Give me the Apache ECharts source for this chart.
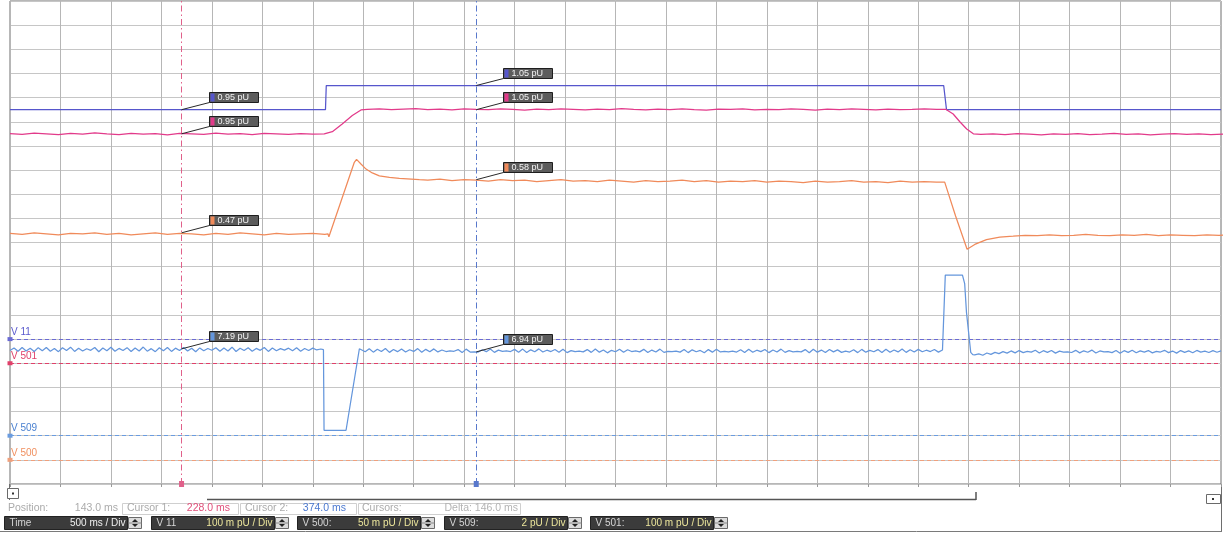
<!DOCTYPE html>
<html><head><meta charset="utf-8">
<script src="https://cdn.jsdelivr.net/npm/echarts@6/dist/echarts.min.js"></script>
<style>html,body{margin:0;padding:0;background:#fff}#c{width:1228px;height:533px}</style>
</head><body><div id="c"></div>
<script>
// ===================== DATA =====================
const positionMs = 143.0;          // left edge of the screen (ms)
const msPerGridDiv = 25;           // time per grid division (ms)
const gridDivsX = 24;
const gridDivsY = 20;
const cursor1Ms = 228.0;
const cursor2Ms = 374.0;

const channelNames = ['V 11', 'V 501', 'V 500', 'V 509'];
const channelPerDiv = [0.1, 0.1, 0.05, 2];     // pU per division
const channelZeroDiv = [6, 5, 1, 2];           // zero marker, divisions above bottom
const channelColors = ['#5656cc', '#e23a8a', '#f08a5a', '#6496dc'];
const zeroLineColors = ['#6a6ad4', '#e0406a', '#f0a07c', '#6a9ce0'];
const zeroLabelColors = ['#5a5acd', '#e0406a', '#f09060', '#4a80d0'];

// cursor read-outs (pU), channel order as channelNames
const cursor1Read = [0.95, 0.95, 0.47, 7.19];
const cursor2Read = [1.05, 1.05, 0.58, 6.94];

// bottom scale bar
const scaleRowLabels = ['Time', 'V 11', 'V 500:', 'V 509:', 'V 501:'];
const scaleRowValues = ['500 ms / Div', '100 m pU / Div', '50 m pU / Div', '2 pU / Div', '100 m pU / Div'];

// ---- V 11 (step) ----
const v11T = [143, 299.3, 299.7, 605.6, 607.0, 743];
const v11V = [0.95, 0.95, 1.05, 1.05, 0.95, 0.95];

// ---- V 501 ----
const v501A = [ // from 143 ms every 6 ms
  0.951, 0.948, 0.953, 0.950, 0.947, 0.952, 0.949, 0.954, 0.950, 0.947,
  0.952, 0.949, 0.951, 0.946, 0.952, 0.950, 0.948, 0.953, 0.949, 0.951,
  0.947, 0.952, 0.950, 0.948, 0.951, 0.949];
const v501UpT = [298.7, 302.7, 307.6, 312.6, 316.9];
const v501UpV = [0.950, 0.959, 0.991, 1.026, 1.049];
const v501B = [ // from 320 ms every 6 ms
  1.051, 1.053, 1.050, 1.052, 1.054, 1.050, 1.052, 1.049, 1.053, 1.051,
  1.050, 1.053, 1.051, 1.048, 1.052, 1.050, 1.053, 1.051, 1.049, 1.052,
  1.050, 1.054, 1.051, 1.049, 1.052, 1.050, 1.053, 1.050, 1.048, 1.052,
  1.051, 1.053, 1.049, 1.051, 1.050, 1.053, 1.051, 1.048, 1.052, 1.050,
  1.053, 1.051, 1.049, 1.052, 1.050, 1.051, 1.053, 1.051];
const v501DownT = [606.8, 610.3, 613.6, 617.0, 620.3];
const v501DownV = [1.051, 1.032, 1.000, 0.970, 0.950];
const v501C = [ // from 624 ms every 6 ms
  0.948, 0.950, 0.947, 0.951, 0.949, 0.946, 0.950, 0.948, 0.951, 0.947,
  0.949, 0.952, 0.948, 0.950, 0.946, 0.949, 0.951, 0.948, 0.950, 0.947, 0.949];

// ---- V 500 ----
const v500A = [ // from 143 ms every 6 ms
  0.469, 0.467, 0.470, 0.468, 0.466, 0.469, 0.468, 0.470, 0.467, 0.469,
  0.466, 0.468, 0.470, 0.467, 0.469, 0.468, 0.466, 0.469, 0.467, 0.470,
  0.468, 0.466, 0.469, 0.467, 0.468, 0.469, 0.467];
const v500UpT = [300.5, 301.0, 313.6, 314.7, 317.0, 319.4, 322.5, 326.0, 331.0, 335.9, 345.8];
const v500UpV = [0.468, 0.462, 0.616, 0.622, 0.612, 0.602, 0.594, 0.588, 0.585, 0.583, 0.580];
const v500B = [ // from 350 ms every 6 ms
  0.579, 0.581, 0.578, 0.580, 0.579, 0.577, 0.580, 0.578, 0.579, 0.576,
  0.578, 0.580, 0.577, 0.578, 0.576, 0.579, 0.577, 0.575, 0.578, 0.576,
  0.577, 0.579, 0.576, 0.578, 0.575, 0.577, 0.576, 0.578, 0.575, 0.577,
  0.576, 0.574, 0.577, 0.575, 0.576, 0.578, 0.575, 0.576, 0.574, 0.577,
  0.575, 0.576, 0.575];
const v500DownT = [606.1, 611.5, 617.2, 621.0, 626.8, 633.4];
const v500DownV = [0.575, 0.505, 0.436, 0.446, 0.456, 0.461];
const v500C = [ // from 640 ms every 6 ms
  0.463, 0.465, 0.464, 0.466, 0.464, 0.465, 0.467, 0.465, 0.464, 0.466,
  0.465, 0.467, 0.464, 0.466, 0.465, 0.464, 0.466, 0.465, 0.466];

// ---- V 509 ----
const v509A = [ // from 143 ms every 2 ms
  7.05, 7.27, 6.99, 7.30, 7.02, 7.24, 6.97, 7.29, 7.04, 7.31,
  7.00, 7.22, 6.96, 7.28, 7.06, 7.33, 6.98, 7.25, 7.01, 7.20,
  7.07, 7.30, 6.95, 7.26, 7.03, 7.32, 6.99, 7.23, 7.05, 7.29,
  6.97, 7.27, 7.02, 7.34, 7.00, 7.21, 6.96, 7.28, 7.04, 7.30,
  6.98, 7.25, 7.06, 7.31, 7.01, 7.24, 6.95, 7.27, 7.03, 7.22,
  7.08, 7.29, 6.99, 7.26, 7.02, 7.33, 6.97, 7.24, 7.05, 7.28,
  7.00, 7.23, 7.07, 7.30, 6.98, 7.26, 7.04, 7.21, 7.09, 7.25,
  7.03, 7.28, 7.00, 7.22, 7.06, 7.25, 7.10, 7.18];
const v509DipT = [298.3, 298.6, 309.5, 316.1];
const v509DipV = [7.12, 0.45, 0.45, 7.20];
const v509B = [ // from 317 ms every 2 ms
  7.15, 6.95, 7.20, 6.92, 7.16, 6.97, 7.22, 6.90, 7.14, 6.96,
  7.18, 6.93, 7.12, 6.98, 7.21, 6.91, 7.15, 6.95, 7.19, 6.94,
  7.10, 6.97, 7.02, 6.99, 7.13, 6.88, 7.17, 6.93, 6.95, 6.93,
  7.12, 6.96, 7.18, 6.90, 7.09, 6.98, 7.02, 6.97, 7.15, 6.92,
  7.17, 6.89, 7.11, 6.95, 7.19, 6.93, 7.08, 6.97, 7.14, 6.91,
  7.16, 6.88, 7.05, 6.96, 7.01, 6.94, 7.13, 6.90, 7.18, 6.92,
  7.10, 6.86, 7.07, 6.95, 7.16, 6.91, 7.12, 6.97, 7.03, 6.94,
  7.15, 6.89, 7.09, 6.93, 7.17, 6.90, 6.98, 6.96, 7.00, 6.92,
  7.14, 6.88, 7.11, 6.95, 7.06, 6.87, 7.13, 6.92, 7.16, 6.94,
  6.99, 6.95, 7.01, 6.93, 7.12, 6.89, 7.15, 6.91, 7.08, 6.96,
  7.14, 6.88, 7.10, 6.93, 7.17, 6.90, 7.04, 6.95, 6.98, 6.94,
  7.13, 6.87, 7.16, 6.92, 7.09, 6.89, 7.14, 6.94, 7.11, 6.90,
  7.00, 6.93, 7.12, 6.88, 7.15, 6.92, 7.07, 6.95, 7.13, 6.89,
  7.16, 6.91, 7.10, 6.94, 7.18, 6.90, 7.12, 6.93, 7.15, 6.95,
  7.08, 6.97, 7.14, 6.92, 7.10];
const v509PulseT = [605.6, 606.4, 614.9, 616.0, 616.9, 619.0, 620.0];
const v509PulseV = [7.05, 13.3, 13.3, 12.6, 10.2, 6.90, 6.72];
const v509C = [ // from 621 ms every 2 ms
  6.70, 6.78, 6.66, 6.85, 6.74, 6.90, 6.80, 6.96, 6.84, 7.02,
  6.86, 7.05, 6.88, 6.98, 6.92, 7.08, 6.85, 7.04, 6.90, 7.06,
  6.84, 7.00, 6.93, 6.95, 6.89, 7.07, 6.86, 7.03, 6.91, 7.09,
  6.85, 7.02, 6.94, 6.97, 6.88, 7.06, 6.83, 7.04, 6.90, 7.08,
  6.87, 7.03, 6.92, 7.05, 6.86, 6.99, 6.93, 7.07, 6.88, 7.01,
  6.84, 7.05, 6.90, 7.02, 6.87, 7.06, 6.92, 7.00, 6.89, 7.04,
  6.91, 7.02];

// ===================== BUILD =====================
const seg = (start, step, vals) => vals.map((v, i) => [start + step * i, v]);
const pairs = (ts, vs) => ts.map((t, i) => [t, vs[i]]);

const traceData = [
  pairs(v11T, v11V),
  [].concat(seg(143, 6, v501A), pairs(v501UpT, v501UpV), seg(320, 6, v501B), pairs(v501DownT, v501DownV), seg(624, 6, v501C)),
  [].concat(seg(143, 6, v500A), pairs(v500UpT, v500UpV), seg(350, 6, v500B), pairs(v500DownT, v500DownV), seg(640, 6, v500C)),
  [].concat(seg(143, 2, v509A), pairs(v509DipT, v509DipV), seg(317, 2, v509B), pairs(v509PulseT, v509PulseV), seg(621, 2, v509C))
];

const FONT = '"Liberation Sans", Arial, sans-serif';
const chart = echarts.init(document.getElementById('c'), null, {renderer: 'canvas'});

const grid = {left: 10, top: 1, width: 1211, height: 483, show: true, borderColor: '#6e6e6e', borderWidth: 1, backgroundColor: '#fff'};

const yAxes = [{
  type: 'value', min: 0, max: gridDivsY, interval: 1,
  axisLine: {show: false}, axisTick: {show: false}, axisLabel: {show: false},
  splitLine: {show: true, lineStyle: {color: '#c6c6c6', width: 1}}
}];
channelNames.forEach((n, k) => {
  yAxes.push({type: 'value', show: false,
    min: -channelZeroDiv[k] * channelPerDiv[k],
    max: (gridDivsY - channelZeroDiv[k]) * channelPerDiv[k]});
});

const series = channelNames.map((name, k) => ({
  name, type: 'line', xAxisIndex: 1, yAxisIndex: k + 1,
  data: traceData[k], showSymbol: false, symbol: 'none', clip: true,
  lineStyle: {color: channelColors[k], width: 1.25}, z: 5,
  markLine: {
    silent: true, animation: false,
    symbol: ['rect', 'none'], symbolSize: [4, 5],
    data: [{yAxis: 0}],
    lineStyle: {type: [4, 3], color: zeroLineColors[k], width: 1},
    itemStyle: {color: zeroLineColors[k]},
    label: {show: true, position: 'insideStartTop', formatter: name, distance: [1, 2],
      color: zeroLabelColors[k], fontSize: 10, fontFamily: FONT}
  }
}));
series.push({
  name: 'cursors', type: 'line', xAxisIndex: 1, yAxisIndex: 0, data: [],
  markLine: {
    silent: true, animation: false, symbol: ['rect', 'none'], symbolSize: [5, 6],
    label: {show: false},
    data: [
      {xAxis: cursor1Ms, lineStyle: {color: '#e0608a', type: [6, 3, 1.5, 3], width: 1}, itemStyle: {color: '#c83060'}},
      {xAxis: cursor2Ms, lineStyle: {color: '#5878cc', type: [6, 3, 1.5, 3], width: 1}, itemStyle: {color: '#3858b0'}}
    ]
  },
  z: 3
});

chart.setOption({
  animation: false,
  backgroundColor: '#ffffff',
  grid,
  xAxis: [{
    type: 'value', min: 0, max: gridDivsX, interval: 1,
    axisLine: {show: false}, axisLabel: {show: false},
    axisTick: {show: true, length: 3, lineStyle: {color: '#9a9a9a'}},
    splitLine: {show: true, lineStyle: {color: '#b6b6b6', width: 1}}
  }, {
    type: 'value', show: false, min: positionMs, max: positionMs + msPerGridDiv * gridDivsX
  }],
  yAxis: yAxes,
  series
});

// ---------- read-out boxes, status bar, scale bar ----------
function buildGraphics() {
  const g = [];
  const times = [cursor1Ms, cursor2Ms];
  [cursor1Read, cursor2Read].forEach((arr, ci) => {
    arr.forEach((val, k) => {
      const p = chart.convertToPixel({xAxisIndex: 1, yAxisIndex: k + 1}, [times[ci], val]);
      const bx = Math.round(p[0] + 27) + 0.5, by = Math.round(p[1] - 18) + 0.5;
      g.push({type: 'line', z: 20, shape: {x1: p[0], y1: p[1], x2: bx, y2: by + 10}, style: {stroke: '#2a2a2a', lineWidth: 1}});
      g.push({type: 'rect', z: 20, shape: {x: bx, y: by, width: 49, height: 10}, style: {fill: '#5c5c5c', stroke: '#1e1e1e', lineWidth: 1}});
      g.push({type: 'rect', z: 21, shape: {x: bx + 1, y: by + 1, width: 4, height: 8}, style: {fill: channelColors[k]}});
      g.push({type: 'text', z: 21, style: {text: val.toFixed(2) + ' pU', x: bx + 8, y: by + 5.5, verticalAlign: 'middle',
        fill: '#f4f4f4', font: '9px ' + FONT}});
    });
  });

  // outer frame pieces
  g.push({type: 'line', shape: {x1: 9.5, y1: 484, x2: 9.5, y2: 500}, style: {stroke: '#6e6e6e', lineWidth: 1}});
  g.push({type: 'line', shape: {x1: 1221.5, y1: 484, x2: 1221.5, y2: 532}, style: {stroke: '#6e6e6e', lineWidth: 1}});
  g.push({type: 'line', shape: {x1: 0, y1: 531.5, x2: 1222, y2: 531.5}, style: {stroke: '#7a7a7a', lineWidth: 1}});

  // scroll row
  g.push({type: 'rect', shape: {x: 7.5, y: 488.5, width: 11, height: 10}, style: {fill: '#fff', stroke: '#6a6a6a', lineWidth: 1}});
  g.push({type: 'rect', shape: {x: 12, y: 492.5, width: 2, height: 2}, style: {fill: '#333'}});
  g.push({type: 'line', shape: {x1: 207, y1: 499.5, x2: 976, y2: 499.5}, style: {stroke: '#555', lineWidth: 1.5}});
  g.push({type: 'line', shape: {x1: 976, y1: 492, x2: 976, y2: 500}, style: {stroke: '#555', lineWidth: 1.5}});
  g.push({type: 'rect', shape: {x: 1206.5, y: 494.5, width: 14, height: 9}, style: {fill: '#fff', stroke: '#6a6a6a', lineWidth: 1}});
  g.push({type: 'rect', shape: {x: 1212, y: 498, width: 2, height: 2}, style: {fill: '#333'}});

  // status row
  const sFont = '10.5px ' + FONT, sy = 508.5;
  const txt = (text, x, fill, align) => g.push({type: 'text', style: {text, x, y: sy, fill, font: sFont, align: align || 'left', verticalAlign: 'middle'}});
  txt('Position:', 8, '#ababab');
  txt(positionMs.toFixed(1) + ' ms', 118, '#ababab', 'right');
  [[122, 116], [240, 116], [358, 162]].forEach(([x, w]) => g.push({type: 'rect', shape: {x: x + 0.5, y: 503.5, width: w, height: 11}, style: {fill: 'none', stroke: '#cfcfcf', lineWidth: 1}}));
  txt('Cursor 1:', 127, '#ababab');
  txt(cursor1Ms.toFixed(1) + ' ms', 230, '#e0507a', 'right');
  txt('Cursor 2:', 245, '#ababab');
  txt(cursor2Ms.toFixed(1) + ' ms', 346, '#4a78d0', 'right');
  txt('Cursors:', 362, '#ababab');
  txt('Delta: ' + (cursor2Ms - cursor1Ms).toFixed(1) + ' ms', 518, '#b4b4b4', 'right');

  // scale row
  scaleRowLabels.forEach((lab, i) => {
    const s = Math.round(4 + 146.6 * i) + 0.5;
    g.push({type: 'rect', shape: {x: s, y: 516.5, width: 123, height: 13}, style: {fill: '#3b3b3b', stroke: '#222', lineWidth: 1}});
    g.push({type: 'text', style: {text: lab, x: s + 5, y: 523.5, verticalAlign: 'middle', fill: '#d6d6d6', font: '10px ' + FONT}});
    g.push({type: 'text', style: {text: scaleRowValues[i], x: s + 121, y: 523.5, align: 'right', verticalAlign: 'middle',
      fill: i === 0 ? '#f0f0f0' : '#ece69c', font: '10px ' + FONT}});
    const sx = s + 124;
    g.push({type: 'rect', shape: {x: sx, y: 517.5, width: 13, height: 11}, style: {fill: '#dcdcdc', stroke: '#6a6a6a', lineWidth: 1}});
    g.push({type: 'polygon', shape: {points: [[sx + 3.5, 522], [sx + 9.5, 522], [sx + 6.5, 519]]}, style: {fill: '#222'}});
    g.push({type: 'polygon', shape: {points: [[sx + 3.5, 524], [sx + 9.5, 524], [sx + 6.5, 527]]}, style: {fill: '#222'}});
    g.push({type: 'line', shape: {x1: sx, y1: 523, x2: sx + 13, y2: 523}, style: {stroke: '#888', lineWidth: 1}});
  });
  return g;
}
chart.setOption({graphic: {elements: buildGraphics()}});
</script>
</body></html>
